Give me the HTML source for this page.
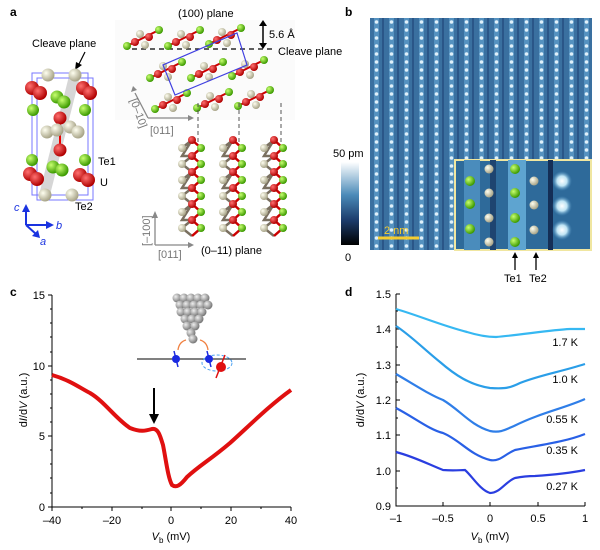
<!DOCTYPE html>
<html><head><meta charset="utf-8"><style>
body{margin:0;background:#fff;width:600px;height:550px;overflow:hidden;font-family:"Liberation Sans",sans-serif}
svg{position:absolute;left:0;top:0}
</style></head><body>
<svg width="600" height="550" viewBox="0 0 600 550" font-family="Liberation Sans, sans-serif">
<defs>
<radialGradient id="gR" cx="35%" cy="35%" r="65%"><stop offset="0" stop-color="#ff7070"/><stop offset="1" stop-color="#b00000"/></radialGradient>
<radialGradient id="gG" cx="35%" cy="35%" r="65%"><stop offset="0" stop-color="#c8ff70"/><stop offset="1" stop-color="#3c9a00"/></radialGradient>
<radialGradient id="gB" cx="35%" cy="35%" r="65%"><stop offset="0" stop-color="#fffff0"/><stop offset="1" stop-color="#a8a488"/></radialGradient>
<radialGradient id="gS" cx="35%" cy="35%" r="65%"><stop offset="0" stop-color="#eee"/><stop offset="1" stop-color="#777"/></radialGradient>
<linearGradient id="cb" x1="0" y1="1" x2="0" y2="0"><stop offset="0" stop-color="#000"/><stop offset="0.3" stop-color="#1c3c6c"/><stop offset="0.6" stop-color="#4a8ab8"/><stop offset="1" stop-color="#fff"/></linearGradient>
<pattern id="stm" x="370" y="18" width="15" height="8" patternUnits="userSpaceOnUse">
<rect width="15" height="8" fill="#3a70a0"/>
<rect x="4" width="5" height="8" fill="#5592c0"/>
<ellipse cx="6.5" cy="4" rx="1.8" ry="1.8" fill="#dff0fa"/>
<rect x="12" width="2" height="8" fill="#2a5688"/>
</pattern>
<radialGradient id="spot" cx="50%" cy="50%" r="50%"><stop offset="0" stop-color="#fff"/><stop offset="0.5" stop-color="#bfe4f4"/><stop offset="1" stop-color="#4a8fbf" stop-opacity="0"/></radialGradient>
<g id="cl">
<line x1="0" y1="8" x2="32" y2="-8" stroke="#c00" stroke-width="2"/>
<circle cx="0" cy="8" r="4" fill="url(#gG)"/>
<circle cx="13" cy="-4" r="4" fill="url(#gB)"/>
<circle cx="18" cy="7" r="4" fill="url(#gB)"/>
<circle cx="8" cy="4" r="4" fill="url(#gR)"/>
<circle cx="22" cy="-1" r="4" fill="url(#gR)"/>
<circle cx="32" cy="-8" r="4" fill="url(#gG)"/>
</g>
<g id="ch">
<polyline points="-10,5 0,-3 -10,13 0,13 -10,21 0,29" fill="none" stroke="#7a7060" stroke-width="2.5"/>
<polyline points="0,-3 9,5 0,13 9,21 0,29" fill="none" stroke="#c00" stroke-width="2.5"/>
<circle cx="0" cy="-3" r="4" fill="url(#gR)"/>
<circle cx="-10" cy="5" r="4" fill="url(#gB)"/>
<circle cx="9" cy="5" r="4" fill="url(#gG)"/>
<circle cx="0" cy="13" r="4" fill="url(#gR)"/>
<circle cx="-10" cy="21" r="4" fill="url(#gB)"/>
<circle cx="9" cy="21" r="4" fill="url(#gG)"/>
</g>
</defs>

<!-- Panel a -->
<text x="10" y="16" font-size="12" font-weight="bold">a</text>
<text x="32" y="47" font-size="11">Cleave plane</text>
<line x1="85" y1="52" x2="78" y2="66" stroke="#000" stroke-width="1.2"/>
<polygon points="75,70 76,62 82,65" fill="#000"/>
<polygon points="70,72 80,76 50,195 40,191" fill="#bbb" opacity="0.6"/>
<rect x="32" y="73" width="56" height="122" fill="none" stroke="#77f" stroke-width="1"/>
<rect x="37" y="78" width="56" height="122" fill="none" stroke="#77f" stroke-width="1"/>
<g>
<line x1="60" y1="118" x2="60" y2="150" stroke="#e00" stroke-width="2"/>
<circle cx="48" cy="75" r="6.5" fill="url(#gB)"/><circle cx="75" cy="75" r="6.5" fill="url(#gB)"/>
<circle cx="33" cy="110" r="6" fill="url(#gG)"/><circle cx="85" cy="110" r="6" fill="url(#gG)"/>
<circle cx="32" cy="88" r="7" fill="url(#gR)"/><circle cx="40" cy="93" r="7" fill="url(#gR)"/>
<circle cx="83" cy="88" r="7" fill="url(#gR)"/><circle cx="90" cy="93" r="7" fill="url(#gR)"/>
<circle cx="57" cy="97" r="6.5" fill="url(#gG)"/><circle cx="64" cy="102" r="6.5" fill="url(#gG)"/>
<circle cx="60" cy="118" r="6.5" fill="url(#gR)"/>
<circle cx="47" cy="132" r="6.5" fill="url(#gB)"/><circle cx="57" cy="130" r="6.5" fill="url(#gB)"/>
<circle cx="70" cy="127" r="6.5" fill="url(#gB)"/><circle cx="78" cy="132" r="6.5" fill="url(#gB)"/>
<circle cx="60" cy="150" r="6.5" fill="url(#gR)"/>
<circle cx="53" cy="167" r="6.5" fill="url(#gG)"/><circle cx="62" cy="170" r="6.5" fill="url(#gG)"/>
<circle cx="32" cy="160" r="6" fill="url(#gG)"/><circle cx="85" cy="160" r="6" fill="url(#gG)"/>
<circle cx="30" cy="174" r="7" fill="url(#gR)"/><circle cx="37" cy="179" r="7" fill="url(#gR)"/>
<circle cx="80" cy="175" r="7" fill="url(#gR)"/><circle cx="88" cy="180" r="7" fill="url(#gR)"/>
<circle cx="45" cy="195" r="6.5" fill="url(#gB)"/><circle cx="72" cy="195" r="6.5" fill="url(#gB)"/>
</g>
<text x="98" y="165" font-size="11">Te1</text>
<text x="100" y="186" font-size="11">U</text>
<text x="75" y="210" font-size="11">Te2</text>
<g stroke="#1a33e0" stroke-width="2" fill="#1a33e0">
<line x1="26" y1="225" x2="26" y2="210"/><polygon points="22,212 30,212 26,204" stroke="none"/>
<line x1="26" y1="225" x2="48" y2="225"/><polygon points="46,221 46,229 54,225" stroke="none"/>
<line x1="26" y1="225" x2="36" y2="234"/><polygon points="32,236 38,230 40,238" stroke="none"/>
</g>
<text x="14" y="211" font-size="11" font-style="italic" fill="#1a33e0">c</text>
<text x="56" y="229" font-size="11" font-style="italic" fill="#1a33e0">b</text>
<text x="40" y="245" font-size="11" font-style="italic" fill="#1a33e0">a</text>

<rect x="115" y="20" width="180" height="100" fill="#f7f7f7" opacity="0.5"/>
<text x="178" y="17" font-size="11">(100) plane</text>
<line x1="132" y1="49" x2="275" y2="49" stroke="#000" stroke-width="1.2" stroke-dasharray="5,4"/>
<line x1="263" y1="22" x2="263" y2="47" stroke="#000" stroke-width="1.5"/>
<polygon points="259,26 267,26 263,20" fill="#000"/><polygon points="259,43 267,43 263,49" fill="#000"/>
<text x="269" y="38" font-size="11">5.6 Å</text>
<text x="278" y="55" font-size="11">Cleave plane</text>
<use href="#cl" x="127" y="38"/><use href="#cl" x="168" y="38"/><use href="#cl" x="209" y="36"/>
<use href="#cl" x="150" y="70"/><use href="#cl" x="191" y="70"/><use href="#cl" x="232" y="68"/>
<use href="#cl" x="155" y="101"/><use href="#cl" x="197" y="100"/><use href="#cl" x="238" y="98"/>
<polygon points="237,33 247,65 175,95 163,65" fill="none" stroke="#4040e0" stroke-width="1.2"/>
<g stroke="#555" stroke-dasharray="4,3"><line x1="198" y1="103" x2="198" y2="145"/><line x1="239" y1="103" x2="239" y2="145"/><line x1="281" y1="103" x2="281" y2="145"/></g>
<g stroke="#888" stroke-width="1.3" fill="#888">
<line x1="148" y1="118" x2="190" y2="118"/><polygon points="188,115 188,121 194,118" stroke="none"/>
<line x1="148" y1="118" x2="135" y2="93"/><polygon points="131,92 137,90 133,86" stroke="none"/>
</g>
<text x="150" y="134" font-size="11" fill="#777">[011]</text>
<text x="0" y="0" font-size="11" fill="#777" transform="translate(130,100) rotate(70)">[0–10]</text>
<use href="#ch" x="192" y="143"/><use href="#ch" x="192" y="175"/><use href="#ch" x="192" y="207"/>
<use href="#ch" x="233" y="143"/><use href="#ch" x="233" y="175"/><use href="#ch" x="233" y="207"/>
<use href="#ch" x="274" y="143"/><use href="#ch" x="274" y="175"/><use href="#ch" x="274" y="207"/>
<g stroke="#888" stroke-width="1.3" fill="#888">
<line x1="155" y1="245" x2="190" y2="245"/><polygon points="188,242 188,248 194,245" stroke="none"/>
<line x1="155" y1="245" x2="155" y2="216"/><polygon points="152,218 158,218 155,211" stroke="none"/>
</g>
<text x="0" y="0" font-size="11" fill="#777" transform="translate(150,246) rotate(-90)">[–100]</text>
<text x="158" y="258" font-size="11" fill="#777">[011]</text>
<text x="201" y="254" font-size="11">(0–11) plane</text>

<!-- Panel b -->
<text x="345" y="16" font-size="12" font-weight="bold">b</text>
<rect x="370" y="18" width="222" height="232" fill="url(#stm)"/>
<rect x="455" y="160" width="136" height="90" fill="#2e6a9a" stroke="#f0e6a0" stroke-width="2"/>
<rect x="464" y="160" width="16" height="90" fill="#4a8cbc"/>
<rect x="508" y="160" width="18" height="90" fill="#5ea4d0"/>
<rect x="490" y="160" width="6" height="90" fill="#1e4470"/>
<rect x="548" y="160" width="5" height="90" fill="#142e56"/>
<circle cx="562" cy="181" r="10" fill="url(#spot)"/><circle cx="562" cy="206" r="10" fill="url(#spot)"/><circle cx="562" cy="230" r="10" fill="url(#spot)"/>
<g>
<circle cx="470" cy="181" r="5" fill="url(#gG)"/><circle cx="470" cy="204" r="5" fill="url(#gG)"/><circle cx="470" cy="229" r="5" fill="url(#gG)"/>
<circle cx="489" cy="169" r="4.5" fill="url(#gB)"/><circle cx="489" cy="193" r="4.5" fill="url(#gB)"/><circle cx="489" cy="218" r="4.5" fill="url(#gB)"/><circle cx="489" cy="242" r="4.5" fill="url(#gB)"/>
<circle cx="515" cy="169" r="5" fill="url(#gG)"/><circle cx="515" cy="193" r="5" fill="url(#gG)"/><circle cx="515" cy="218" r="5" fill="url(#gG)"/><circle cx="515" cy="242" r="5" fill="url(#gG)"/>
<circle cx="534" cy="181" r="4.5" fill="url(#gB)"/><circle cx="534" cy="205" r="4.5" fill="url(#gB)"/><circle cx="534" cy="230" r="4.5" fill="url(#gB)"/>
</g>
<line x1="378" y1="238" x2="419" y2="238" stroke="#f4cc30" stroke-width="3"/>
<text x="384" y="234" font-size="11" fill="#f4cc30">2 nm</text>
<rect x="341" y="162" width="18" height="83" fill="url(#cb)"/>
<text x="333" y="157" font-size="11">50 pm</text>
<text x="345" y="261" font-size="11">0</text>
<g stroke="#000" stroke-width="1.3"><line x1="515" y1="254" x2="515" y2="270"/><line x1="536" y1="254" x2="536" y2="270"/></g>
<polygon points="512,258 518,258 515,252" fill="#000"/><polygon points="533,258 539,258 536,252" fill="#000"/>
<text x="504" y="282" font-size="11">Te1</text><text x="529" y="282" font-size="11">Te2</text>

<!-- Panel c -->
<text x="10" y="296" font-size="12" font-weight="bold">c</text>
<g stroke="#000" stroke-width="1" fill="none">
<polyline points="52,295 52,507 291,507"/>
<line x1="48" y1="295" x2="52" y2="295"/><line x1="48" y1="366" x2="52" y2="366"/><line x1="48" y1="436" x2="52" y2="436"/><line x1="48" y1="507" x2="52" y2="507"/>
<line x1="50" y1="309" x2="52" y2="309"/><line x1="50" y1="323" x2="52" y2="323"/><line x1="50" y1="337" x2="52" y2="337"/><line x1="50" y1="352" x2="52" y2="352"/><line x1="50" y1="380" x2="52" y2="380"/><line x1="50" y1="394" x2="52" y2="394"/><line x1="50" y1="408" x2="52" y2="408"/><line x1="50" y1="422" x2="52" y2="422"/><line x1="50" y1="450" x2="52" y2="450"/><line x1="50" y1="464" x2="52" y2="464"/><line x1="50" y1="478" x2="52" y2="478"/><line x1="50" y1="493" x2="52" y2="493"/>
<line x1="52" y1="507" x2="52" y2="511"/><line x1="112" y1="507" x2="112" y2="511"/><line x1="171" y1="507" x2="171" y2="511"/><line x1="231" y1="507" x2="231" y2="511"/><line x1="291" y1="507" x2="291" y2="511"/>
<line x1="82" y1="507" x2="82" y2="509"/><line x1="142" y1="507" x2="142" y2="509"/><line x1="201" y1="507" x2="201" y2="509"/><line x1="261" y1="507" x2="261" y2="509"/>
</g>
<g font-size="11" text-anchor="end"><text x="45" y="299">15</text><text x="45" y="370">10</text><text x="45" y="440">5</text><text x="45" y="511">0</text></g>
<g font-size="11" text-anchor="middle"><text x="52" y="524">–40</text><text x="112" y="524">–20</text><text x="171" y="524">0</text><text x="231" y="524">20</text><text x="291" y="524">40</text></g>
<text x="171" y="540" font-size="11" text-anchor="middle"><tspan font-style="italic">V</tspan><tspan font-size="8" dy="3">b</tspan><tspan dy="-3"> (mV)</tspan></text>
<text transform="translate(27,400) rotate(-90)" font-size="11" text-anchor="middle">d<tspan font-style="italic">I</tspan>/d<tspan font-style="italic">V</tspan> (a.u.)</text>
<path d="M52,375 C70,380 80,388 90,393 C105,402 115,418 130,428 C140,432 145,431 152,429 C158,428 160,435 163,445 C166,460 168,478 172,485 C176,488 180,486 187,477 C200,465 210,460 230,443 C250,425 270,405 291,390" fill="none" stroke="#e01010" stroke-width="4"/>
<line x1="154" y1="388" x2="154" y2="418" stroke="#000" stroke-width="2"/>
<polygon points="149,414 159,414 154,424" fill="#000"/>
<g>
<circle cx="177" cy="298" r="4.5" fill="url(#gS)"/><circle cx="184" cy="298" r="4.5" fill="url(#gS)"/><circle cx="191" cy="298" r="4.5" fill="url(#gS)"/><circle cx="198" cy="298" r="4.5" fill="url(#gS)"/><circle cx="205" cy="298" r="4.5" fill="url(#gS)"/>
<circle cx="180" cy="305" r="4.5" fill="url(#gS)"/><circle cx="187" cy="305" r="4.5" fill="url(#gS)"/><circle cx="194" cy="305" r="4.5" fill="url(#gS)"/><circle cx="201" cy="305" r="4.5" fill="url(#gS)"/><circle cx="208" cy="305" r="4.5" fill="url(#gS)"/>
<circle cx="181" cy="312" r="4.5" fill="url(#gS)"/><circle cx="188" cy="312" r="4.5" fill="url(#gS)"/><circle cx="195" cy="312" r="4.5" fill="url(#gS)"/><circle cx="202" cy="312" r="4.5" fill="url(#gS)"/>
<circle cx="185" cy="319" r="4.5" fill="url(#gS)"/><circle cx="192" cy="319" r="4.5" fill="url(#gS)"/><circle cx="199" cy="319" r="4.5" fill="url(#gS)"/>
<circle cx="187" cy="326" r="4.5" fill="url(#gS)"/><circle cx="195" cy="326" r="4.5" fill="url(#gS)"/>
<circle cx="191" cy="333" r="4.5" fill="url(#gS)"/><circle cx="193" cy="339" r="4.5" fill="url(#gS)"/>
</g>
<path d="M186,340 Q179,342 178,350" fill="none" stroke="#f08040" stroke-width="1.3"/>
<path d="M200,340 Q207,342 208,350" fill="none" stroke="#f08040" stroke-width="1.3"/>
<line x1="137" y1="359" x2="246" y2="359" stroke="#000" stroke-width="1"/>
<ellipse cx="217" cy="363" rx="15" ry="8" fill="none" stroke="#4aa0f0" stroke-dasharray="3,2"/>
<line x1="174" y1="351" x2="178" y2="367" stroke="#1a2ae0" stroke-width="1.5"/>
<circle cx="176" cy="359" r="4" fill="#1a2ae0"/>
<line x1="207" y1="351" x2="211" y2="367" stroke="#1a2ae0" stroke-width="1.5"/>
<circle cx="209" cy="359" r="4" fill="#1a2ae0"/>
<line x1="225" y1="355" x2="216" y2="378" stroke="#e01010" stroke-width="1.5"/>
<circle cx="221" cy="367" r="5" fill="#e01010"/>

<!-- Panel d -->
<text x="345" y="296" font-size="12" font-weight="bold">d</text>
<g stroke="#000" stroke-width="1" fill="none">
<polyline points="396,294 396,506 585,506"/>
<line x1="396" y1="294" x2="400" y2="294"/><line x1="396" y1="329" x2="400" y2="329"/><line x1="396" y1="365" x2="400" y2="365"/><line x1="396" y1="400" x2="400" y2="400"/><line x1="396" y1="435" x2="400" y2="435"/><line x1="396" y1="471" x2="400" y2="471"/>
<line x1="396" y1="506" x2="396" y2="502"/><line x1="443" y1="506" x2="443" y2="502"/><line x1="490" y1="506" x2="490" y2="502"/><line x1="538" y1="506" x2="538" y2="502"/><line x1="585" y1="506" x2="585" y2="502"/>
<line x1="396" y1="311" x2="398" y2="311"/><line x1="396" y1="347" x2="398" y2="347"/><line x1="396" y1="382" x2="398" y2="382"/><line x1="396" y1="418" x2="398" y2="418"/><line x1="396" y1="453" x2="398" y2="453"/><line x1="396" y1="488" x2="398" y2="488"/>
</g>
<g font-size="11" text-anchor="end"><text x="391" y="298">1.5</text><text x="391" y="333">1.4</text><text x="391" y="369">1.3</text><text x="391" y="404">1.2</text><text x="391" y="439">1.1</text><text x="391" y="475">1.0</text><text x="391" y="510">0.9</text></g>
<g font-size="11" text-anchor="middle"><text x="396" y="522">–1</text><text x="443" y="522">–0.5</text><text x="490" y="522">0</text><text x="538" y="522">0.5</text><text x="585" y="522">1</text></g>
<text x="490" y="540" font-size="11" text-anchor="middle"><tspan font-style="italic">V</tspan><tspan font-size="8" dy="3">b</tspan><tspan dy="-3"> (mV)</tspan></text>
<text transform="translate(364,400) rotate(-90)" font-size="11" text-anchor="middle">d<tspan font-style="italic">I</tspan>/d<tspan font-style="italic">V</tspan> (a.u.)</text>
<g fill="none" stroke-width="2.2">
<path d="M396,309 C420,316 440,325 467,332 C480,336 488,337 496,337 C520,335 550,330 570,329 L585,329" stroke="#36b8f2"/>
<path d="M396,326 C410,335 425,350 440,362 C455,375 470,385 490,388 C505,389 510,388 520,383 C540,375 560,372 585,364" stroke="#2a9ee8"/>
<path d="M396,374 C415,385 430,395 443,400 C460,410 470,425 490,431 C500,433 505,430 514,426 C540,413 565,408 585,399" stroke="#2f7ee8"/>
<path d="M396,408 C415,418 430,430 443,433 C460,440 470,455 490,460 C500,462 505,454 515,450 C540,445 565,442 585,434" stroke="#2960e6"/>
<path d="M396,452 C415,457 430,465 443,470 C455,471 460,470 465,470 C472,476 480,490 490,493 C500,493 505,482 515,478 C525,476 530,476 535,476 C550,475 570,473 585,470" stroke="#2a3ee0"/>
</g>
<g font-size="11" text-anchor="end"><text x="578" y="346">1.7 K</text><text x="578" y="383">1.0 K</text><text x="578" y="423">0.55 K</text><text x="578" y="454">0.35 K</text><text x="578" y="490">0.27 K</text></g>
</svg>
</body></html>
